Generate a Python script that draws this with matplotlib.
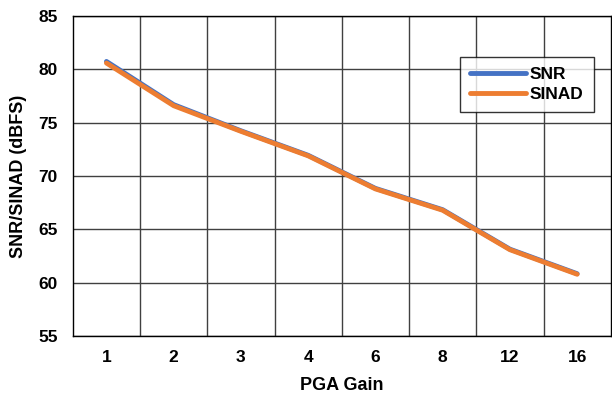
import matplotlib.pyplot as plt
import numpy as np

plt.rcParams['font.family'] = ['Liberation Sans', 'DejaVu Sans']
plt.rcParams['font.weight'] = 'bold'

gains = ['1', '2', '3', '4', '6', '8', '12', '16']
snr = [80.75, 76.7, 74.25, 71.95, 68.85, 66.85, 63.15, 60.85]
sinad = [80.6, 76.6, 74.2, 71.9, 68.8, 66.8, 63.1, 60.8]

fig = plt.figure(figsize=(6.12, 4.03), dpi=100)
ax = fig.add_axes([0.119, 0.166, 0.879, 0.794])

x = np.arange(len(gains))
ax.plot(x, snr, color='#4472C4', lw=3.5, label='SNR', solid_capstyle='round')
ax.plot(x, sinad, color='#ED7D31', lw=3.5, label='SINAD', solid_capstyle='round')

ax.set_xlim(-0.5, len(gains) - 0.5)
ax.set_ylim(55, 85)
ax.set_yticks(range(55, 86, 5))
ax.set_xticks(x)
ax.set_xticklabels(gains)
ax.set_xticks(x[:-1] + 0.5, minor=True)

# grid: horizontal at major y ticks, vertical between categories
ax.grid(True, axis='y', which='major', color='#404040', lw=1)
ax.grid(True, axis='x', which='minor', color='#404040', lw=1)
ax.grid(False, axis='x', which='major')
ax.set_axisbelow(True)

ax.tick_params(axis='x', which='both', length=0, pad=10, labelsize=12.5)
ax.tick_params(axis='y', length=0, pad=11, labelsize=12.5)
for s in ax.spines.values():
    s.set_color('black')
    s.set_linewidth(1)

ax.set_xlabel('PGA Gain', fontsize=13, fontweight='bold', labelpad=9)
ax.set_ylabel('SNR/SINAD (dBFS)', fontsize=13, fontweight='bold', labelpad=8)

leg = ax.legend(loc='upper right', bbox_to_anchor=(0.968, 0.873), fontsize=12.5,
                frameon=True, fancybox=False, handlelength=3.2,
                borderpad=0.6, labelspacing=0.25, handletextpad=0.2,
                borderaxespad=0)
leg.get_frame().set_edgecolor('black')
leg.get_frame().set_linewidth(1)

plt.savefig('out.png', dpi=100)
